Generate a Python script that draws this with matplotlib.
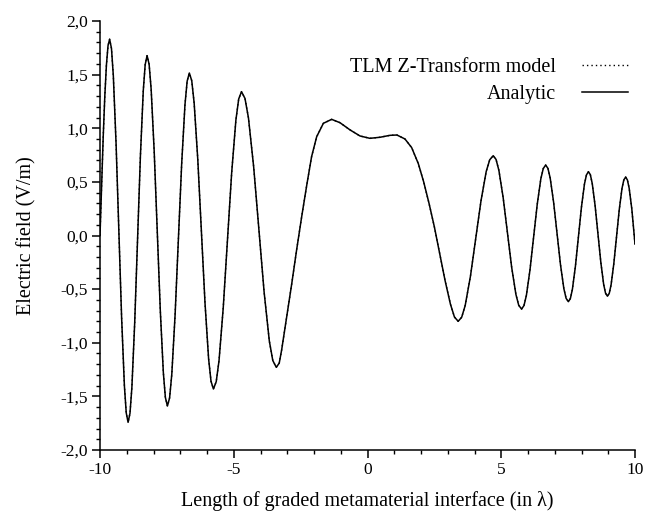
import matplotlib
matplotlib.use('Agg')
import matplotlib.pyplot as plt
from matplotlib.ticker import MultipleLocator, FuncFormatter

plt.rcParams['font.family'] = ['Liberation Serif', 'DejaVu Serif']

# position along the graded interface (in wavelengths)
x_lambda = [
    -10.0, -9.94, -9.88, -9.82, -9.76, -9.70, -9.64,
    -9.571, -9.502, -9.399, -9.295, -9.192, -9.088, -9.019, -8.95,
    -8.879, -8.808, -8.702, -8.595, -8.489, -8.382, -8.311, -8.24,
    -8.164, -8.088, -7.974, -7.86, -7.746, -7.632, -7.556, -7.48,
    -7.398, -7.316, -7.193, -7.07, -6.947, -6.824, -6.742, -6.66,
    -6.57, -6.48, -6.345, -6.21, -6.075, -5.94, -5.85, -5.76,
    -5.655, -5.55, -5.393, -5.235, -5.078, -4.92, -4.815, -4.71,
    -4.58, -4.45, -4.255, -4.06, -3.865, -3.67, -3.54, -3.41,
    -3.30, -3.21, -3.02, -2.83, -2.65, -2.46, -2.27, -2.09, -1.90,
    -1.65, -1.34, -1.03, -0.65, -0.28, 0.09, 0.47, 0.84, 1.10,
    1.40, 1.65, 1.90, 2.10, 2.30, 2.50, 2.70, 2.90, 3.10, 3.25, 3.39,
    3.521, 3.652, 3.849, 4.045, 4.242, 4.438, 4.569, 4.70,
    4.806, 4.912, 5.071, 5.23, 5.389, 5.548, 5.654, 5.76,
    5.85, 5.94, 6.075, 6.21, 6.345, 6.48, 6.57, 6.66,
    6.745, 6.83, 6.958, 7.085, 7.213, 7.34, 7.425, 7.51,
    7.585, 7.66, 7.773, 7.885, 7.998, 8.11, 8.185, 8.26,
    8.331, 8.402, 8.509, 8.615, 8.722, 8.828, 8.899, 8.97,
    9.038, 9.106, 9.208, 9.31, 9.412, 9.514, 9.582, 9.65,
    9.716, 9.782, 9.881, 10.0,
]

# analytic electric field (V/m)
e_analytic = [
    0.0, 0.47, 0.92, 1.30, 1.59, 1.77, 1.83,
    1.744, 1.491, 0.856, 0.045, -0.766, -1.401, -1.654, -1.742,
    -1.658, -1.416, -0.809, -0.033, 0.744, 1.351, 1.593, 1.677,
    1.597, 1.365, 0.785, 0.044, -0.698, -1.278, -1.510, -1.590,
    -1.514, -1.294, -0.742, -0.038, 0.667, 1.218, 1.439, 1.515,
    1.443, 1.234, 0.711, 0.042, -0.627, -1.150, -1.359, -1.431,
    -1.363, -1.166, -0.674, -0.045, 0.584, 1.076, 1.273, 1.341,
    1.278, 1.096, 0.639, 0.056, -0.527, -0.984, -1.166, -1.229,
    -1.19, -1.068, -0.757, -0.446, -0.135, 0.176, 0.471, 0.735, 0.921,
    1.046, 1.083, 1.052, 0.984, 0.928, 0.906, 0.916, 0.934, 0.937,
    0.90, 0.82, 0.67, 0.50, 0.30, 0.08, -0.17, -0.42, -0.64, -0.76, -0.80,
    -0.762, -0.653, -0.379, -0.028, 0.322, 0.597, 0.706, 0.744,
    0.709, 0.607, 0.354, 0.029, -0.296, -0.549, -0.651, -0.686,
    -0.653, -0.558, -0.319, -0.015, 0.290, 0.529, 0.624, 0.657,
    0.626, 0.535, 0.309, 0.020, -0.269, -0.495, -0.586, -0.617,
    -0.587, -0.501, -0.286, -0.011, 0.264, 0.479, 0.565, 0.595,
    0.567, 0.484, 0.278, 0.015, -0.249, -0.455, -0.538, -0.566,
    -0.539, -0.460, -0.263, -0.011, 0.242, 0.439, 0.518, 0.545,
    0.518, 0.441, 0.247, -0.08,
]

# TLM Z-transform result lies on top of the analytic curve
e_tlm = list(e_analytic)

fig = plt.figure(figsize=(6.61, 5.16), dpi=100)
ax = fig.add_axes([100/661, 1-450/516, 535/661, 429/516])

ax.plot(x_lambda, e_analytic, color='black', lw=1.1, label='Analytic',
        solid_joinstyle='round')
ax.plot(x_lambda, e_tlm, color='black', lw=1.0, ls=(0, (1, 2.2)),
        label='TLM Z-Transform model')

ax.set_xlim(-10, 10)
ax.set_ylim(-2, 2)
ax.xaxis.set_major_locator(MultipleLocator(5))
ax.xaxis.set_minor_locator(MultipleLocator(1))
ax.yaxis.set_major_locator(MultipleLocator(0.5))
ax.yaxis.set_minor_locator(MultipleLocator(0.1))
ax.xaxis.set_major_formatter(FuncFormatter(lambda v, p: '%d' % round(v)))
ax.yaxis.set_major_formatter(FuncFormatter(lambda v, p: ('%.1f' % v).replace('.', ',')))

for s in ['top', 'right']:
    ax.spines[s].set_visible(False)
for s in ['left', 'bottom']:
    ax.spines[s].set_linewidth(1.1)
ax.tick_params(which='major', direction='out', length=5.5, width=1.1,
               labelsize=12.5, pad=3)
ax.tick_params(which='minor', direction='out', length=3, width=1.0)

ax.set_xlabel('Length of graded metamaterial interface (in λ)', fontsize=14.5)
ax.set_ylabel('Electric field (V/m)', fontsize=14.5)
ax.xaxis.set_label_coords(0.5, -0.095)
ax.yaxis.set_label_coords(-0.118, 0.5)

handles, labels = ax.get_legend_handles_labels()
ax.legend(handles[::-1], labels[::-1], loc='upper right',
          bbox_to_anchor=(628/661, 1-58/516), bbox_transform=fig.transFigure,
          frameon=False, markerfirst=False, fontsize=14.5,
          handlelength=2.3, handletextpad=1.3, labelspacing=0.4,
          borderpad=0, borderaxespad=0)

fig.savefig('out.png', dpi=100)
